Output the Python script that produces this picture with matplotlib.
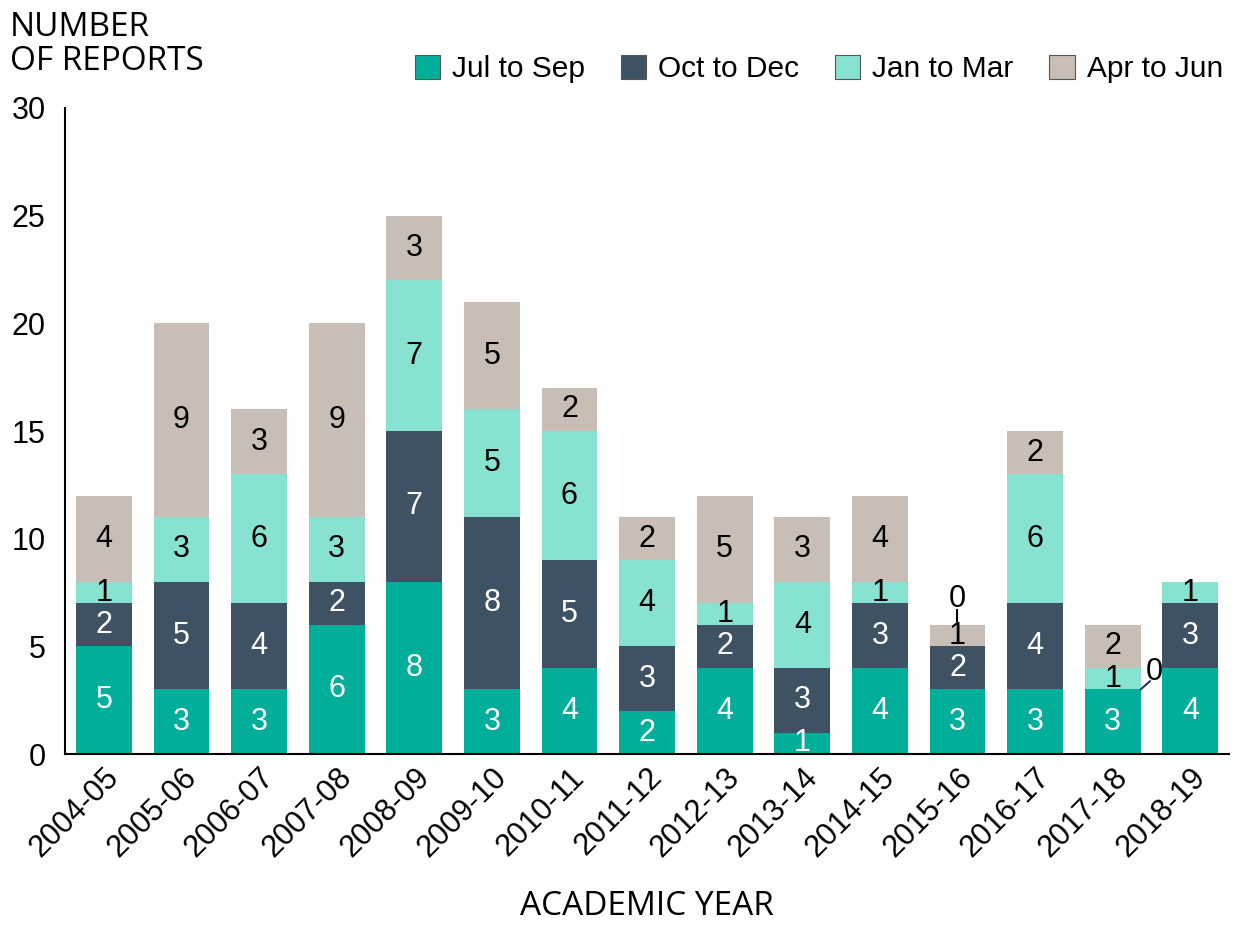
import matplotlib
matplotlib.use("Agg")
import matplotlib.pyplot as plt
import numpy as np

years = ["2004-05", "2005-06", "2006-07", "2007-08", "2008-09", "2009-10", "2010-11",
         "2011-12", "2012-13", "2013-14", "2014-15", "2015-16", "2016-17", "2017-18", "2018-19"]
jul_sep = [5, 3, 3, 6, 8, 3, 4, 2, 4, 1, 4, 3, 3, 3, 4]
oct_dec = [2, 5, 4, 2, 7, 8, 5, 3, 2, 3, 3, 2, 4, 0, 3]
jan_mar = [1, 3, 6, 3, 7, 5, 6, 4, 1, 4, 1, 0, 6, 1, 1]
apr_jun = [4, 9, 3, 9, 3, 5, 2, 2, 5, 3, 4, 1, 2, 2, 0]

series = [("Jul to Sep", jul_sep, "#00AE9A", "white"),
          ("Oct to Dec", oct_dec, "#3E5264", "white"),
          ("Jan to Mar", jan_mar, "#88E2D2", "black"),
          ("Apr to Jun", apr_jun, "#C8BEB5", "black")]

plt.rcParams['font.family'] = ['Liberation Sans', 'DejaVu Sans']

fig = plt.figure(figsize=(12.39, 9.26), dpi=100)
ax = fig.add_axes([0.0525, 0.1857, 0.9395, 0.6977])

x = np.arange(len(years))
bottom = np.zeros(len(years))
width = 0.72
for name, vals, color, tcol in series:
    vals = np.array(vals, dtype=float)
    ax.bar(x, vals, width, bottom=bottom, color=color, label=name, zorder=2)
    for i, v in enumerate(vals):
        if v > 0:
            ax.text(x[i], bottom[i] + v / 2, f"{int(v)}", ha="center", va="center",
                    fontsize=22, color=tcol, zorder=3)
    bottom = bottom + vals

# zero-value callouts
i = years.index("2015-16")
top = bottom[i]
ax.plot([x[i], x[i]], [top + 0.2, top + 0.7], color="black", lw=1.5, zorder=3)
ax.text(x[i], top + 1.2, "0", ha="center", va="center", fontsize=22, color="black")
i = years.index("2017-18")
yb = jul_sep[i]
ax.plot([x[i] + width / 2, x[i] + width / 2 + 0.12], [yb, yb + 0.38], color="#1F3B60", lw=1.5, zorder=3)
ax.text(x[i] + width / 2 + 0.17, yb + 0.8, "0", ha="center", va="center", fontsize=22, color="black")

ax.set_xlim(-0.5, 14.5)
ax.set_ylim(0, 30)
ax.set_yticks([0, 5, 10, 15, 20, 25, 30])
ax.tick_params(axis="y", length=0, labelsize=22, pad=14)
ax.tick_params(axis="x", length=0, labelsize=22, pad=6)
ax.set_xticks(x)
ax.set_xticklabels(years, rotation=45, ha="right", rotation_mode="anchor")
for s in ["top", "right"]:
    ax.spines[s].set_visible(False)
ax.spines["left"].set_linewidth(1.5)
ax.spines["bottom"].set_linewidth(1.5)

fig.text(0.008, 0.988, "NUMBER\nOF REPORTS", ha="left", va="top", fontsize=24,
         family=["Open Sans", "DejaVu Sans"], linespacing=1.05)
fig.text(0.522, 0.003, "ACADEMIC YEAR", ha="center", va="bottom", fontsize=24,
         family=["Open Sans", "DejaVu Sans"])

leg = ax.legend(loc="lower right", bbox_to_anchor=(1.005, 1.02), ncol=4, frameon=False,
                fontsize=21.5, handlelength=0.85, handleheight=0.85, handletextpad=0.4,
                columnspacing=1.2, borderaxespad=0)
for h in leg.legend_handles:
    h.set_edgecolor("#555555")
    h.set_linewidth(0.8)

fig.savefig("out.png", dpi=100)
